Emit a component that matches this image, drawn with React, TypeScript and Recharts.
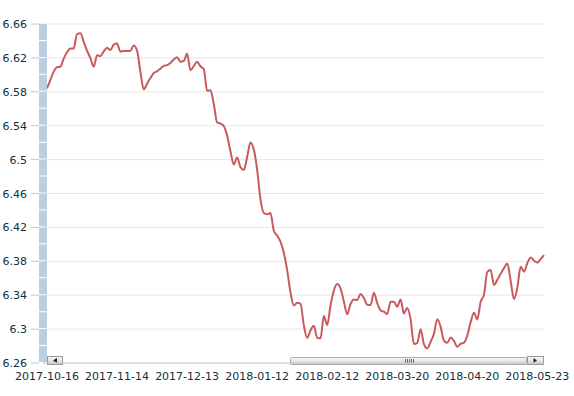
import React from "react";
import { LineChart, Line, XAxis, YAxis, CartesianGrid } from "recharts";

// x-axis labels, one every 21 trading days
const dateLabels = [
  "2017-10-16",
  "2017-11-14",
  "2017-12-13",
  "2018-01-12",
  "2018-02-12",
  "2018-03-20",
  "2018-04-20",
  "2018-05-23",
];
const labelStep = 21;

const yTicks = [6.26, 6.3, 6.34, 6.38, 6.42, 6.46, 6.5, 6.54, 6.58, 6.62, 6.66];

// daily rate
const rates = [
  6.5841, 6.5939, 6.6038, 6.609, 6.6096, 6.6192, 6.6266, 6.631, 6.6312, 6.6481,
  6.649, 6.6392, 6.6285, 6.6199, 6.6096, 6.6232, 6.622, 6.6276, 6.632, 6.6292,
  6.6358, 6.6369, 6.6274, 6.6281, 6.628, 6.6283, 6.6347, 6.6286, 6.6037, 6.5829,
  6.5896, 6.5962, 6.6021, 6.6042, 6.6073, 6.6106, 6.6114, 6.6141, 6.6181, 6.6207,
  6.6156, 6.6163, 6.625, 6.6054, 6.6102, 6.6156, 6.6101, 6.6068, 6.5812, 6.5817,
  6.5656, 6.5439, 6.5425, 6.5395, 6.5284, 6.5098, 6.4942, 6.5026, 6.4909, 6.4878,
  6.5031, 6.5202, 6.5118, 6.4883, 6.4534, 6.4369, 6.4354, 6.4369, 6.416, 6.4102,
  6.4032, 6.39, 6.3695, 6.3431, 6.3277, 6.331, 6.3298, 6.3044, 6.2895, 6.2986,
  6.3041, 6.2898, 6.2891, 6.3156, 6.3047, 6.3278, 6.3455, 6.3531, 6.3479, 6.3327,
  6.3176, 6.3296, 6.335, 6.3343, 6.3415, 6.3367, 6.3288, 6.3283, 6.3429, 6.3307,
  6.3222, 6.3205, 6.3177, 6.3323, 6.3323, 6.3264, 6.3348, 6.3185, 6.325, 6.312,
  6.2824, 6.2837, 6.2998, 6.2823, 6.2773, 6.285, 6.2946, 6.3116, 6.3029, 6.2864,
  6.2839, 6.2901, 6.2861, 6.2792, 6.2826, 6.2839, 6.2925, 6.308, 6.3192, 6.3114,
  6.3321, 6.3405, 6.3674, 6.3698, 6.352, 6.3582, 6.3652, 6.372, 6.3773, 6.3571,
  6.3353, 6.3487, 6.3736, 6.3678, 6.3777, 6.3846, 6.3807, 6.3785, 6.3826, 6.3874,
];

const data = rates.map((rate, i) => ({ i, rate }));

const FONT = "'DejaVu Sans', Verdana, sans-serif";
const TEXT = "#123040";

const YTick = (props: any) => {
  const { y, payload } = props;
  return (
    <g>
      <line x1={31} x2={39} y1={y} y2={y} stroke="#b9c8d8" />
      <text x={27} y={y + 4} textAnchor="end" fontSize={11} fontFamily={FONT} fill={TEXT}>
        {String(payload.value)}
      </text>
    </g>
  );
};

// fake scrollbar under the plot
const ScrollBar = () => (
  <g>
    <defs>
      <linearGradient id="btn" x1="0" y1="0" x2="0" y2="1">
        <stop offset="0%" stopColor="#fbfbfb" />
        <stop offset="100%" stopColor="#cfcfcf" />
      </linearGradient>
    </defs>
    <rect x={47.5} y={356.5} width={15} height={8} fill="url(#btn)" stroke="#999" />
    <path d="M53 360.5 L57 358 L57 363 Z" fill="#222" />
    <rect x={290.5} y={357.5} width={236} height={7} rx={1} fill="url(#btn)" stroke="#aaa" />
    {[405, 407, 409, 411, 413].map((x) => (
      <line key={x} x1={x + 0.5} x2={x + 0.5} y1={359} y2={363} stroke="#666" />
    ))}
    <rect x={527.5} y={356.5} width={16} height={8} fill="url(#btn)" stroke="#999" />
    <path d="M537 360.5 L533.5 358 L533.5 363 Z" fill="#222" />
  </g>
);

export default function App() {
  return (
    <div style={{ position: "absolute", left: 0, top: 0, background: "#fff" }}>
      <LineChart
        width={574}
        height={396}
        data={data}
        margin={{ top: 24, right: 30, bottom: 3, left: 0 }}
      >
        <CartesianGrid vertical={false} stroke="#e8e8e8" />
        <XAxis
          dataKey="i"
          interval={labelStep - 1}
          padding={{ left: 4, right: 0 }}
          height={30}
          tickLine={false}
          tickMargin={3}
          axisLine={{ stroke: "#c3ccd6" }}
          tick={{ fontSize: 11, fontFamily: FONT, fill: TEXT }}
          tickFormatter={(v) => dateLabels[Math.round(Number(v) / labelStep)] ?? ""}
        />
        <YAxis
          width={43}
          domain={[6.26, 6.66]}
          ticks={yTicks}
          interval={0}
          allowDataOverflow
          tickLine={false}
          axisLine={{ stroke: "#bccfe0", strokeWidth: 8, strokeDasharray: "15.95 1" }}
          tick={YTick}
        />
        <Line
          type="monotone"
          dataKey="rate"
          stroke="#c85a5c"
          strokeWidth={2}
          dot={false}
          activeDot={false}
          isAnimationActive={false}
        />
        <ScrollBar />
      </LineChart>
    </div>
  );
}
